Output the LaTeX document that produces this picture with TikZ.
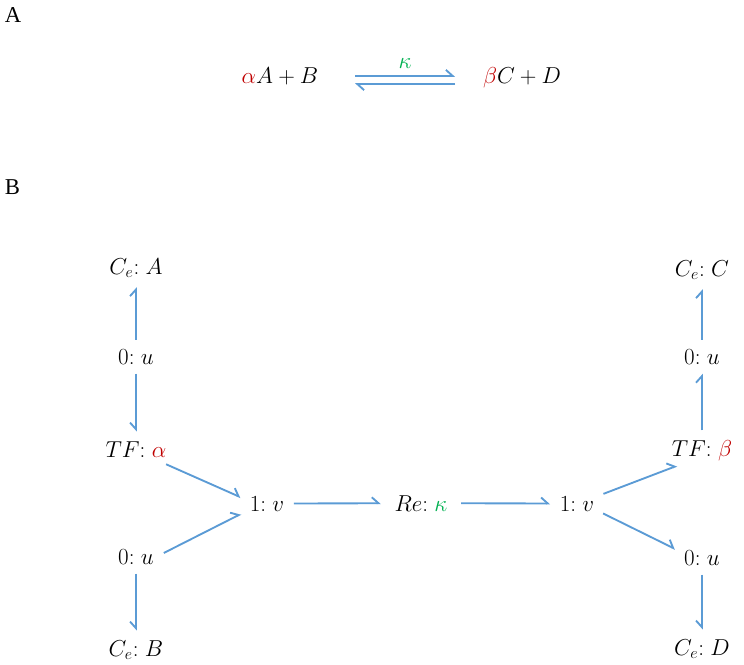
\documentclass[tikz,border=0pt]{standalone}
\usepackage{fontspec}
\newfontfamily\labfont{Liberation Serif}
\usepackage{tikz}
\usetikzlibrary{arrows.meta}
\definecolor{bondblue}{RGB}{91,155,213}
\definecolor{parred}{RGB}{192,0,0}
\definecolor{pargreen}{RGB}{0,176,80}
\newcommand{\bcol}{{:}\;}

\begin{document}
\begin{tikzpicture}[x=0.75pt,y=-0.75pt,
  every node/.style={font=\fontsize{17.28}{21}\selectfont,anchor=base,inner sep=2pt},
  bond/.style={draw=bondblue,line width=1.4pt,-{Straight Barb[left,length=5pt,width=9pt]},shorten <=5pt,shorten >=5pt},
  bondr/.style={bond,-{Straight Barb[right,length=5pt,width=9pt]}},
  panel/.style={font=\labfont\fontsize{17}{20}\selectfont,anchor=base west}]
\useasboundingbox (0,0) rectangle (744,665);
\node[panel] (pa) at (2,22) {A};
\node[panel] (pb) at (2,194) {B};
\node (lhs) at (280,83) {$\textcolor{parred}{\alpha}A+B$};
\node (rhs) at (522,83) {$\textcolor{parred}{\beta}C+D$};
\node (rate) at (405,68) {$\textcolor{pargreen}{\kappa}$};
\coordinate (eqw) at (355,80);
\coordinate (eqe) at (455,80);
\draw[bond,shorten <=0pt,shorten >=0pt] ([yshift=3.1pt]eqw) -- ([yshift=3.1pt]eqe);
\draw[bond,shorten <=0pt,shorten >=0pt] ([yshift=-3.1pt]eqe) -- ([yshift=-3.1pt]eqw);
\node (cea) at (136,274) {$C_e\bcol A$};
\node (zua) at (136,364) {$0\bcol u$};
\node (tfa) at (136,457) {$TF\bcol\textcolor{parred}{\alpha}$};
\node (onel) at (267,511) {$1\bcol v$};
\node (zub) at (136,564) {$0\bcol u$};
\node (ceb) at (136,656) {$C_e\bcol B$};
\node (re) at (421,511) {$Re\bcol\textcolor{pargreen}{\kappa}$};
\node (oner) at (577,511) {$1\bcol v$};
\node (tfb) at (702,456) {$TF\bcol\textcolor{parred}{\beta}$};
\node (zuc) at (702,364) {$0\bcol u$};
\node (cec) at (702,276) {$C_e\bcol C$};
\node (zud) at (702,565) {$0\bcol u$};
\node (ced) at (702,655) {$C_e\bcol D$};
\draw[bond] (zua) -- (cea);
\draw[bondr] (zua) -- (tfa);
\draw[bond,shorten <=8pt] (tfa.-28) -- (onel.170);
\draw[bond,shorten <=6pt] (zub.east) -- (onel.200);
\draw[bondr] (zub) -- (ceb);
\draw[bond,shorten >=8pt] (onel) -- (re);
\draw[bond,shorten <=8pt] (re) -- (oner);
\draw[bond] (oner.20) -- (tfb.215);
\draw[bond] (oner.-19) -- (zud.165);
\draw[bond] (tfb) -- (zuc);
\draw[bond] (zuc) -- (cec);
\draw[bondr] (zud) -- (ced);
\end{tikzpicture}
\end{document}
